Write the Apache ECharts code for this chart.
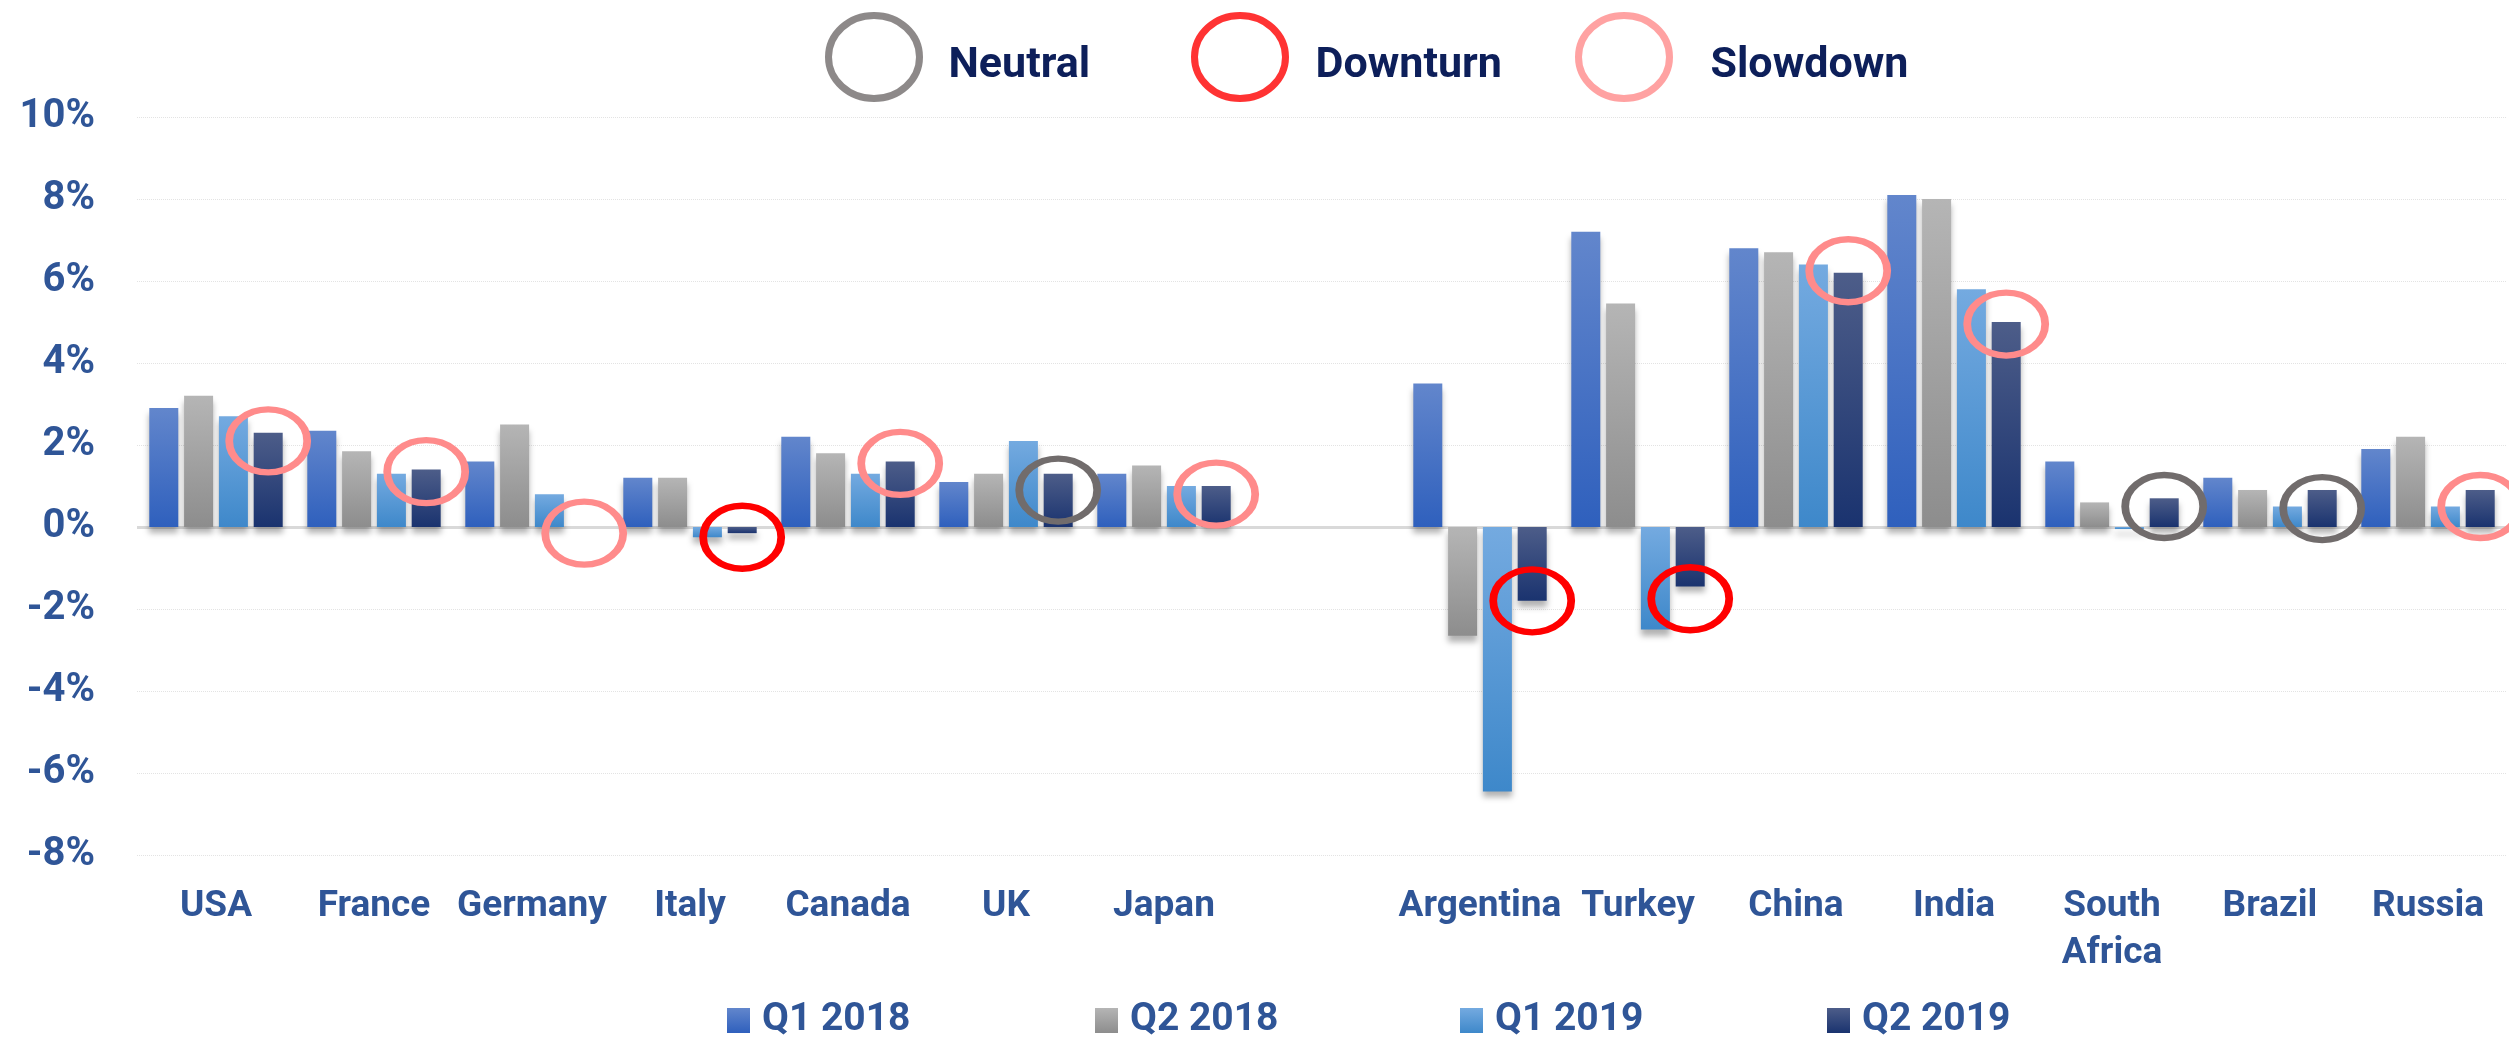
<!DOCTYPE html>
<html>
<head>
<meta charset="utf-8">
<title>GDP growth by quarter</title>
<script src="https://cdn.jsdelivr.net/npm/echarts@6/dist/echarts.min.js"></script>
<style>
  html, body { margin: 0; padding: 0; background: #fff; }
  #chart { width: 2509px; height: 1039px; }
</style>
</head>
<body>
<div id="chart"></div>
<script>
const categories = ["USA", "France", "Germany", "Italy", "Canada", "UK", "Japan", "",
  "Argentina", "Turkey", "China", "India", "South Africa", "Brazil", "Russia"];
const q1_2018 = [2.9, 2.35, 1.6, 1.2, 2.2, 1.1, 1.3, null, 3.5, 7.2, 6.8, 8.1, 1.6, 1.2, 1.9];
const q2_2018 = [3.2, 1.85, 2.5, 1.2, 1.8, 1.3, 1.5, null, -2.65, 5.45, 6.7, 8.0, 0.6, 0.9, 2.2];
const q1_2019 = [2.7, 1.3, 0.8, -0.25, 1.3, 2.1, 1.0, null, -6.45, -2.5, 6.4, 5.8, -0.05, 0.5, 0.5];
const q2_2019 = [2.3, 1.4, 0.0, -0.15, 1.6, 1.3, 1.0, null, -1.8, -1.45, 6.2, 5.0, 0.7, 0.9, 0.9];

// outlook rings drawn round the Q2 2019 bars
const outlook = ["Slowdown", "Slowdown", "Slowdown", "Downturn", "Slowdown", "Neutral", "Slowdown", "",
  "Downturn", "Downturn", "Slowdown", "Slowdown", "Neutral", "Neutral", "Slowdown"];
const ringCenter = [2.1, 1.35, -0.15, -0.25, 1.55, 0.9, 0.8, null, -1.8, -1.75, 6.25, 4.95, 0.5, 0.45, 0.5];
const outlookNames = ["Neutral", "Downturn", "Slowdown"];

const ringColors = { Neutral: "#716c6c", Downturn: "#ff0000", Slowdown: "#ff8b8b" };
const ELLIPSE = "path://M0,50A50,50,0,1,1,100,50A50,50,0,1,1,0,50Z";
const FONT = "Roboto";
const LABEL_BLUE = "#2f5597";

function grad(top, bottom) {
  return new echarts.graphic.LinearGradient(0, 0, 0, 1, [
    { offset: 0, color: top },
    { offset: 1, color: bottom },
  ]);
}

const seriesDefs = [
  { name: "Q1 2018", data: q1_2018, color: grad("#6286cc", "#2f60bd") },
  { name: "Q2 2018", data: q2_2018, color: grad("#b5b5b5", "#8d8d8d") },
  { name: "Q1 2019", data: q1_2019, color: grad("#74aae0", "#3e88ca") },
  { name: "Q2 2019", data: q2_2019, color: grad("#4d5d89", "#1a336f") },
];

const rings = [];
categories.forEach((c, i) => {
  if (!outlook[i]) return;
  rings.push({
    coord: [i, ringCenter[i]],
    itemStyle: { color: "rgba(0,0,0,0)", borderColor: ringColors[outlook[i]], borderWidth: 7 },
  });
});

const series = seriesDefs.map((s, idx) => {
  const out = {
    type: "bar",
    name: s.name,
    data: s.data,
    barWidth: 29,
    barGap: "20%",
    itemStyle: {
      color: s.color,
      shadowBlur: 6,
      shadowOffsetY: 6,
      shadowColor: "rgba(0,0,0,0.3)",
    },
    emphasis: { disabled: true },
  };
  if (idx === 0) {
    out.markLine = {
      silent: true,
      symbol: ["none", "none"],
      label: { show: false },
      lineStyle: { color: "#d9d9d9", width: 3, type: "solid" },
      data: [{ yAxis: 0 }],
      z: 1,
    };
  }
  if (idx === 3) {
    out.markPoint = {
      silent: true,
      symbol: ELLIPSE,
      symbolSize: [78, 63],
      label: { show: false },
      data: rings,
    };
  }
  return out;
});

outlookNames.forEach((n) => {
  series.push({
    type: "scatter",
    name: n,
    data: [],
    itemStyle: { color: "rgba(0,0,0,0)", borderColor: ringColors[n], borderWidth: 7 },
  });
});

function ringLegend(name, left, pad) {
  return {
    left: left, top: 12, padding: 0, selectedMode: false,
    itemWidth: 91, itemHeight: 83, symbolKeepAspect: false,
    data: [{ name: name, icon: ELLIPSE,
      itemStyle: { color: "rgba(0,0,0,0)", borderColor: ringColors[name], borderWidth: 7 } }],
    // empty first line nudges the label a little below the ring's middle
    formatter: (n) => "\n" + n,
    textStyle: { fontFamily: FONT, fontWeight: "bold", fontSize: 43, lineHeight: 18,
      color: "#0d1f5a", padding: [0, 0, 0, pad] },
  };
}

function barLegend(name, left) {
  return {
    left: left, top: 1001, padding: 0, selectedMode: false,
    itemWidth: 23, itemHeight: 25,
    data: [{ name: name, icon: "rect" }],
    textStyle: { fontFamily: FONT, fontWeight: "bold", fontSize: 39, color: LABEL_BLUE, padding: [0, 0, 0, 7] },
  };
}

const chart = echarts.init(document.getElementById("chart"));
chart.setOption({
  animation: false,
  backgroundColor: "#ffffff",
  legend: [
    ringLegend("Neutral", 825, 24),
    ringLegend("Downturn", 1191, 25),
    ringLegend("Slowdown", 1575, 36),
    barLegend("Q1 2018", 727),
    barLegend("Q2 2018", 1095),
    barLegend("Q1 2019", 1460),
    barLegend("Q2 2019", 1827),
  ],
  grid: { left: 137, right: 2, top: 117, bottom: 184, outerBoundsMode: "none" },
  xAxis: {
    type: "category",
    data: categories,
    axisLine: { show: false, onZero: false },
    axisTick: { show: false },
    axisLabel: {
      interval: 0,
      margin: 28,
      fontFamily: FONT,
      fontWeight: "bold",
      fontSize: 37,
      lineHeight: 47,
      color: LABEL_BLUE,
      formatter: (v) => v.replace("South ", "South\n"),
    },
  },
  yAxis: {
    type: "value",
    min: -8,
    max: 10,
    interval: 2,
    axisLine: { show: false },
    axisTick: { show: false },
    splitLine: { lineStyle: { color: "#e3e3e3", type: "dotted", width: 1 } },
    axisLabel: {
      margin: 42,
      fontFamily: FONT,
      fontWeight: "bold",
      fontSize: 40,
      color: LABEL_BLUE,
      formatter: "{value}%",
    },
  },
  series: series,
});

window.addEventListener("resize", () => chart.resize());
</script>
</body>
</html>
